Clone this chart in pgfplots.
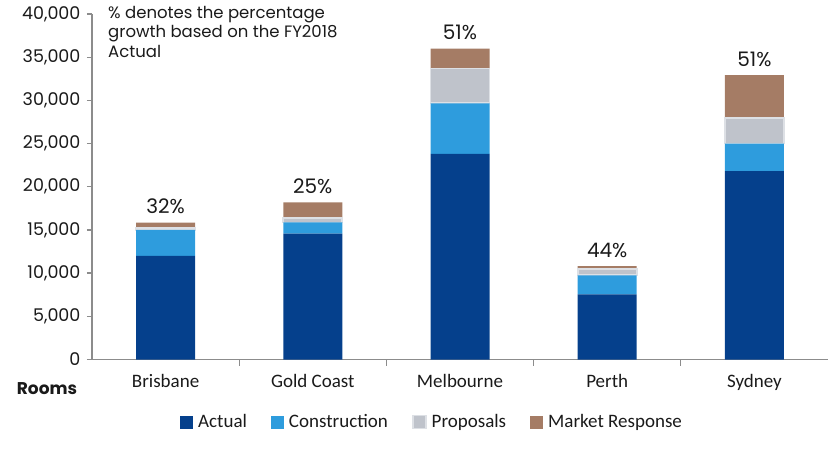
\documentclass[border=0pt]{standalone}
\usepackage{fontspec}
\setmainfont{Poppins}
\newfontfamily\calib{Carlito}
\usepackage{pgfplots}
\pgfplotsset{compat=1.18}
\definecolor{cA}{HTML}{05408C}
\definecolor{cC}{HTML}{2E9CDD}
\definecolor{cP}{HTML}{BFC3CB}
\definecolor{cPb}{HTML}{DDE0E5}
\definecolor{cM}{HTML}{A57C65}
\definecolor{axgray}{HTML}{8C8C8C}
\definecolor{txt}{HTML}{1A1A1A}
\begin{document}
\begin{tikzpicture}
\path[use as bounding box] (0,0) rectangle (828bp,449bp);
\begin{axis}[
  at={(92bp,89.5bp)}, anchor=south west,
  scale only axis, width=736bp, height=345.5bp,
  ybar stacked, bar width=59bp,
  xmin=-0.5, xmax=4.5, ymin=0, ymax=40000,
  xtick={0,1,2,3,4},
  xticklabels={Brisbane,Gold Coast,Melbourne,Perth,Sydney},
  minor xtick={0.5,1.5,2.5,3.5},
  ytick={0,5000,10000,15000,20000,25000,30000,35000,40000},
  axis x line*=bottom, axis y line*=left,
  axis line style={draw=axgray, line width=1.3bp, -},
  tick align=outside,
  major tick length=5bp, minor tick length=6bp,
  major x tick style={draw=none},
  minor x tick style={draw=axgray, line width=1.3bp},
  y tick style={draw=axgray, line width=1.3bp},
  scaled y ticks=false,
  /pgf/number format/1000 sep={,},
  /pgf/number format/assume math mode=true,
  yticklabel style={font=\fontsize{17.5bp}{20bp}\selectfont, text=txt, xshift=-3bp},
  xticklabel style={font=\calib\fontsize{19bp}{22bp}\selectfont, text=txt, yshift=-6bp},
  legend columns=4,
  legend style={at={(0.462,-0.181)}, anchor=center, draw=none, fill=none,
    font=\calib\fontsize{19bp}{22bp}\selectfont, text=txt,
    /tikz/every even column/.append style={column sep=22bp}},
  legend image code/.code={\fill[#1] (0bp,-6.5bp) rectangle (13bp,6.5bp); \path (16bp,0bp);},
  clip=false,
]
\addplot[fill=cA, draw=none] coordinates {(0,12000) (1,14570) (2,23800) (3,7540) (4,21800)};
\addlegendentry{Actual}
\addplot[fill=cC, draw=none] coordinates {(0,3000) (1,1300) (2,5850) (3,2200) (4,3200)};
\addlegendentry{Construction}
\addplot[fill=cP, draw=cPb, line width=1.8bp] coordinates {(0,200) (1,550) (2,4050) (3,760) (4,2980)};
\addlegendentry{Proposals}
\addplot[fill=cM, draw=none] coordinates {(0,650) (1,1780) (2,2280) (3,320) (4,4950)};
\addlegendentry{Market Response}
\tikzset{pct/.style={anchor=south, font=\fontsize{20bp}{22bp}\selectfont, text=txt, yshift=5bp}}
\node[pct] at (axis cs:0,15850) {32\%};
\node[pct] at (axis cs:1,18200) {25\%};
\node[pct] at (axis cs:2,35980) {51\%};
\node[pct] at (axis cs:3,10820) {44\%};
\node[pct] at (axis cs:4,32930) {51\%};
\end{axis}
\node[anchor=north west, align=left, inner sep=0pt, text=txt,
  font=\fontsize{16.5bp}{19.5bp}\selectfont] at (108bp,443bp)
  {\% denotes the percentage\\growth based on the FY2018\\Actual};
\node[anchor=center, inner sep=0pt, text=txt, font=\fontsize{17bp}{19bp}\selectfont\bfseries] at (47bp,60bp) {Rooms};
\end{tikzpicture}
\end{document}
